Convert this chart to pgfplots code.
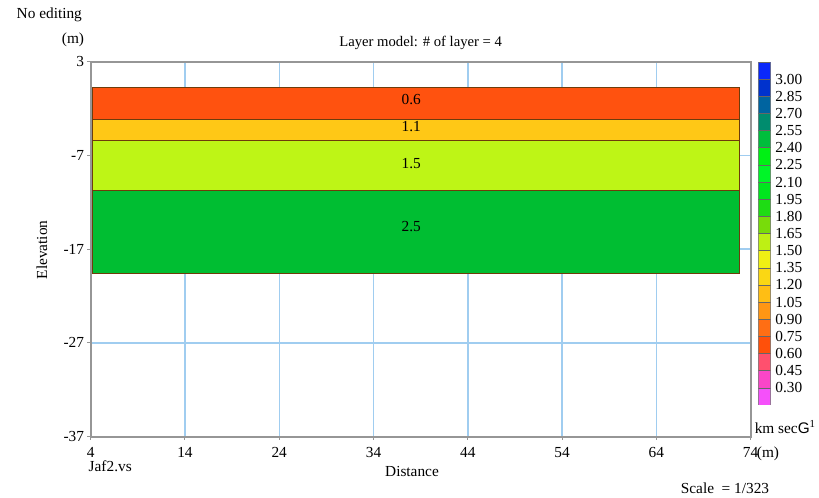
\documentclass[border=0pt]{standalone}
\usepackage{pgfplots}
\pgfplotsset{compat=1.18}
\usepackage{fontspec}
\setmainfont{Liberation Serif}
\setsansfont{Liberation Sans}
\definecolor{gridblue}{RGB}{160,205,240}
\definecolor{framegray}{RGB}{150,150,150}
\definecolor{lorange}{RGB}{255,82,15}
\definecolor{lgold}{RGB}{255,200,22}
\definecolor{lyg}{RGB}{190,245,22}
\definecolor{lgreen}{RGB}{0,190,50}
\definecolor{edge}{RGB}{110,60,10}
\definecolor{cb1}{RGB}{10,40,250}
\definecolor{cb2}{RGB}{0,50,205}
\definecolor{cb3}{RGB}{0,100,160}
\definecolor{cb4}{RGB}{0,140,110}
\definecolor{cb5}{RGB}{0,190,60}
\definecolor{cb6}{RGB}{0,240,20}
\definecolor{cb7}{RGB}{0,245,40}
\definecolor{cb8}{RGB}{0,230,30}
\definecolor{cb9}{RGB}{30,220,20}
\definecolor{cb10}{RGB}{120,220,10}
\definecolor{cb11}{RGB}{190,240,20}
\definecolor{cb12}{RGB}{240,240,20}
\definecolor{cb13}{RGB}{250,215,20}
\definecolor{cb14}{RGB}{255,190,20}
\definecolor{cb15}{RGB}{255,150,20}
\definecolor{cb16}{RGB}{255,110,20}
\definecolor{cb17}{RGB}{255,80,10}
\definecolor{cb18}{RGB}{255,80,110}
\definecolor{cb19}{RGB}{250,70,200}
\definecolor{cb20}{RGB}{245,80,250}
\begin{document}
\begin{tikzpicture}[font=\fontsize{11.5}{13}\selectfont]
\path[use as bounding box] (0,0) rectangle (614.25pt,373.5pt);
\begin{axis}[at={(68pt,46pt)}, anchor=south west, scale only axis,
  width=495pt, height=281.25pt,
  xmin=4, xmax=74, ymin=-37, ymax=3,
  xtick={4,14,24,34,44,54,64,74}, xticklabels={4,14,24,34,44,54,64,74},
  ytick={-37,-27,-17,-7,3}, yticklabels={-37,-27,-17,-7,3},
  grid=major, major grid style={color=gridblue, line width=1.1pt},
  axis line style={framegray, line width=1.3pt},
  tick style={framegray, line width=0.8pt}, tick align=outside,
  major tick length=2.5pt, xtick pos=bottom, ytick pos=left,
  xticklabel style={yshift=-2pt}, yticklabel style={xshift=1pt},
  clip=false]
\addplot[fill=lgreen, draw=edge, line width=0.5pt] coordinates {(4.15,-10.7) (72.78,-10.7) (72.78,-19.6) (4.15,-19.6)} --cycle;
\addplot[fill=lyg, draw=edge, line width=0.5pt] coordinates {(4.15,-5.42) (72.78,-5.42) (72.78,-10.7) (4.15,-10.7)} --cycle;
\addplot[fill=lgold, draw=edge, line width=0.5pt] coordinates {(4.15,-3.15) (72.78,-3.15) (72.78,-5.42) (4.15,-5.42)} --cycle;
\addplot[fill=lorange, draw=edge, line width=0.5pt] coordinates {(4.15,0.22) (72.78,0.22) (72.78,-3.15) (4.15,-3.15)} --cycle;
\addplot[fill=lgold, draw=none] coordinates {(31.2,-3.2) (46.7,-3.2) (46.7,-3.55) (31.2,-3.55)} --cycle;
\node at (axis cs:38,-1.0) {0.6};
\node at (axis cs:38,-3.95) {1.1};
\node at (axis cs:38,-7.9) {1.5};
\node at (axis cs:38,-14.6) {2.5};
\end{axis}
\begin{axis}[at={(568.7pt,69.75pt)}, anchor=south west, scale only axis,
  width=9.3pt, height=257.25pt,
  xmin=0, xmax=1, ymin=0.15, ymax=3.15,
  xtick=\empty,
  ytick={0.30,0.45,0.60,0.75,0.90,1.05,1.20,1.35,1.50,1.65,1.80,1.95,2.10,2.25,2.40,2.55,2.70,2.85,3.00},
  yticklabels={0.30,0.45,0.60,0.75,0.90,1.05,1.20,1.35,1.50,1.65,1.80,1.95,2.10,2.25,2.40,2.55,2.70,2.85,3.00},
  yticklabel pos=right, major tick length=0pt,
  yticklabel style={xshift=0pt},
  axis line style={draw=none}]
\addplot[fill=cb20, draw=black!60] coordinates {(0,0.15)(1,0.15)(1,0.30)(0,0.30)} --cycle;
\addplot[fill=cb19, draw=black!60] coordinates {(0,0.30)(1,0.30)(1,0.45)(0,0.45)} --cycle;
\addplot[fill=cb18, draw=black!60] coordinates {(0,0.45)(1,0.45)(1,0.60)(0,0.60)} --cycle;
\addplot[fill=cb17, draw=black!60] coordinates {(0,0.60)(1,0.60)(1,0.75)(0,0.75)} --cycle;
\addplot[fill=cb16, draw=black!60] coordinates {(0,0.75)(1,0.75)(1,0.90)(0,0.90)} --cycle;
\addplot[fill=cb15, draw=black!60] coordinates {(0,0.90)(1,0.90)(1,1.05)(0,1.05)} --cycle;
\addplot[fill=cb14, draw=black!60] coordinates {(0,1.05)(1,1.05)(1,1.20)(0,1.20)} --cycle;
\addplot[fill=cb13, draw=black!60] coordinates {(0,1.20)(1,1.20)(1,1.35)(0,1.35)} --cycle;
\addplot[fill=cb12, draw=black!60] coordinates {(0,1.35)(1,1.35)(1,1.50)(0,1.50)} --cycle;
\addplot[fill=cb11, draw=black!60] coordinates {(0,1.50)(1,1.50)(1,1.65)(0,1.65)} --cycle;
\addplot[fill=cb10, draw=black!60] coordinates {(0,1.65)(1,1.65)(1,1.80)(0,1.80)} --cycle;
\addplot[fill=cb9, draw=black!60] coordinates {(0,1.80)(1,1.80)(1,1.95)(0,1.95)} --cycle;
\addplot[fill=cb8, draw=black!60] coordinates {(0,1.95)(1,1.95)(1,2.10)(0,2.10)} --cycle;
\addplot[fill=cb7, draw=black!60] coordinates {(0,2.10)(1,2.10)(1,2.25)(0,2.25)} --cycle;
\addplot[fill=cb6, draw=black!60] coordinates {(0,2.25)(1,2.25)(1,2.40)(0,2.40)} --cycle;
\addplot[fill=cb5, draw=black!60] coordinates {(0,2.40)(1,2.40)(1,2.55)(0,2.55)} --cycle;
\addplot[fill=cb4, draw=black!60] coordinates {(0,2.55)(1,2.55)(1,2.70)(0,2.70)} --cycle;
\addplot[fill=cb3, draw=black!60] coordinates {(0,2.70)(1,2.70)(1,2.85)(0,2.85)} --cycle;
\addplot[fill=cb2, draw=black!60] coordinates {(0,2.85)(1,2.85)(1,3.00)(0,3.00)} --cycle;
\addplot[fill=cb1, draw=black!60] coordinates {(0,3.00)(1,3.00)(1,3.15)(0,3.15)} --cycle;
\end{axis}
\node[anchor=west] at (9pt,362pt) {No editing};
\node at (54.75pt,343.5pt) {(m)};
\node at (315.5pt,341pt) {\fontsize{11}{13}\selectfont Layer model: \# of layer = 4};
\node[rotate=90] at (31.5pt,186pt) {Elevation};
\node at (309pt,20pt) {Distance};
\node[anchor=west] at (63pt,23.5pt) {Jaf2.vs};
\node at (576pt,33pt) {(m)};
\node at (543.75pt,7.5pt) {Scale\ \ = 1/323};
\node[anchor=east, inner sep=0pt] at (612pt,53.25pt) {km sec\textsf{G}$^{\mathrm{1}}$};
\end{tikzpicture}
\end{document}
